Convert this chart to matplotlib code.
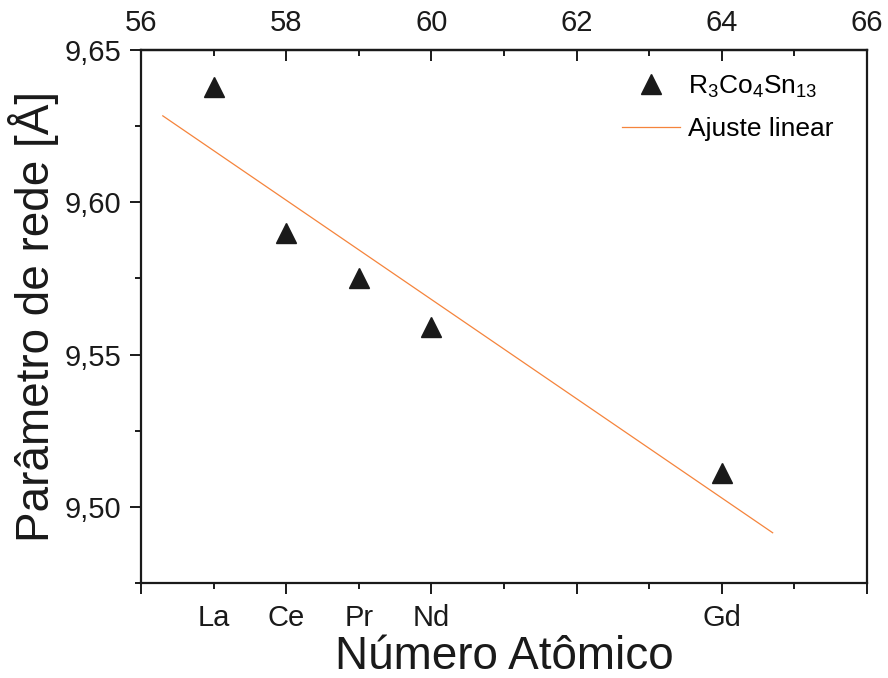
import numpy as np
import matplotlib
matplotlib.use("Agg")
import matplotlib.pyplot as plt
from matplotlib.ticker import FuncFormatter, MultipleLocator

plt.rcParams['font.family'] = ['Liberation Sans', 'DejaVu Sans']
plt.rcParams['mathtext.default'] = 'regular'

# Lattice parameter of R3Co4Sn13 vs atomic number of the rare earth
elements = ['La', 'Ce', 'Pr', 'Nd', 'Gd']
atomic_number = [57, 58, 59, 60, 64]
lattice_a = [9.638, 9.590, 9.575, 9.559, 9.511]

# Linear fit drawn over a slightly extended range
fit_range = [56.3, 64.7]
slope, intercept = np.polyfit(atomic_number, lattice_a, 1)
x_fit = np.array(fit_range)
y_fit = slope * x_fit + intercept

fig = plt.figure(figsize=(8.88, 6.78), dpi=100)
ax = fig.add_axes([0.1588, 0.1401, 0.8176, 0.7862])

ax.plot(atomic_number, lattice_a, linestyle='none', marker='^', markersize=14.5,
        color='#1a1a1a', label=r'R$_3$Co$_4$Sn$_{13}$')
ax.plot(x_fit, y_fit, color='#f5843c', linewidth=0.9, label='Ajuste linear')

ax.set_xlim(56, 66)
ax.set_ylim(9.475, 9.65)

for sp in ax.spines.values():
    sp.set_linewidth(1.6)
    sp.set_color('#1a1a1a')

# Bottom axis: element symbols at their atomic numbers
names = dict(zip(atomic_number, elements))
major_x = [56, 58, 60, 62, 64, 66]
minor_x = [57, 59, 61, 63, 65]
ax.set_xticks(major_x, [names.get(v, '') for v in major_x])
ax.set_xticks(minor_x, [names.get(v, '') for v in minor_x], minor=True)
ax.tick_params(axis='x', which='major', direction='out', length=8, width=1.4,
               pad=7, labelsize=21, colors='#1a1a1a')
ax.tick_params(axis='x', which='minor', direction='out', length=4, width=1.4,
               pad=11, labelsize=21, colors='#1a1a1a')

# Left axis
ax.yaxis.set_major_locator(MultipleLocator(0.05))
ax.yaxis.set_minor_locator(MultipleLocator(0.025))
ax.yaxis.set_major_formatter(FuncFormatter(lambda v, p: f'{v:.2f}'.replace('.', ',')))
ax.tick_params(axis='y', which='major', direction='out', length=8, width=1.4,
               pad=6, labelsize=21, colors='#1a1a1a')
ax.tick_params(axis='y', which='minor', direction='out', length=4, width=1.4,
               colors='#1a1a1a')

# Top axis: atomic number scale
top = ax.secondary_xaxis('top')
top.set_xticks(major_x)
top.xaxis.set_minor_locator(MultipleLocator(1))
top.tick_params(which='major', direction='in', length=8, width=1.4, pad=9,
                labelsize=21, colors='#1a1a1a')
top.tick_params(which='minor', direction='in', length=4, width=1.4,
                colors='#1a1a1a')
top.spines['top'].set_linewidth(1.6)

ax.set_xlabel('Número Atômico', fontsize=33, labelpad=2, color='#1a1a1a')
ax.set_ylabel('Parâmetro de rede [Å]', fontsize=33, labelpad=4, color='#1a1a1a')

ax.legend(loc='upper right', bbox_to_anchor=(0.987, 1.0), frameon=False,
          fontsize=19, handlelength=2.2, handletextpad=0.3, labelspacing=0.65,
          numpoints=1)

fig.savefig('out.png', dpi=100)
